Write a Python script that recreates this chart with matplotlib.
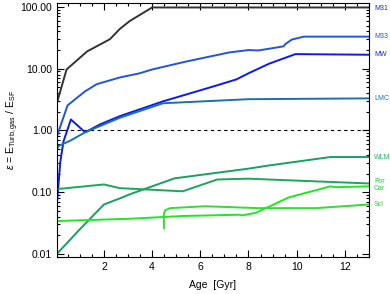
import matplotlib
matplotlib.use('Agg')
import matplotlib.pyplot as plt
from matplotlib.ticker import LogLocator, MultipleLocator, FuncFormatter, NullFormatter

plt.rcParams['font.family'] = ['Liberation Sans', 'DejaVu Sans']
plt.rcParams['mathtext.fontset'] = 'custom'
plt.rcParams['mathtext.rm'] = 'Liberation Sans'
plt.rcParams['mathtext.it'] = 'Liberation Sans:italic'

# Кривые галактик (возраст в Гyr, отношение энергий)
m31_x = [0.05, 0.45, 1.3, 2.25, 2.66, 3.07, 4.0, 13.0]
m31_y = [2.8, 9.7, 19, 30, 44, 59, 98, 98]

m33_x = [0.05, 0.49, 1.22, 1.7, 2.66, 3.48, 4.0, 5.4, 7.2, 8.0, 8.4, 8.85, 9.46, 9.53, 9.8, 10.3, 13.0]
m33_y = [0.8, 2.54, 4.3, 5.6, 7.2, 8.4, 9.7, 13, 18.3, 20, 19.7, 21, 23, 25, 29.6, 33, 33]

mw_x = [0.05, 0.19, 0.32, 0.63, 1.22, 1.84, 2.66, 4.45, 6.65, 7.5, 8.0, 8.85, 9.95, 13.0]
mw_y = [0.066, 0.31, 0.66, 1.5, 0.93, 1.25, 1.7, 2.95, 5.3, 6.7, 8.4, 12.0, 17.2, 16.8]

lmc_x = [0.05, 0.12, 0.6, 1.22, 2.66, 4.45, 8.0, 13.0]
lmc_y = [0.5, 0.56, 0.68, 0.93, 1.6, 2.75, 3.2, 3.3]

wlm_x = [0.05, 1.0, 2.0, 2.66, 3.07, 4.93, 8.0, 8.85, 11.4, 13.0]
wlm_y = [0.01, 0.025, 0.063, 0.079, 0.092, 0.167, 0.24, 0.27, 0.37, 0.37]

for_x = [0.05, 2.0, 2.66, 5.27, 6.7, 8.0, 13.0]
for_y = [0.112, 0.133, 0.116, 0.103, 0.16, 0.165, 0.138]

car_x = [0.05, 3.07, 5.26, 7.6, 7.73, 8.3, 9.67, 11.4, 11.6, 13.0]
car_y = [0.034, 0.037, 0.041, 0.043, 0.042, 0.046, 0.082, 0.124, 0.12, 0.124]

scl_x = [4.49, 4.49, 4.55, 4.75, 6.2, 8.4, 10.8, 13.0]
scl_y = [0.026, 0.045, 0.051, 0.055, 0.059, 0.055, 0.055, 0.063]

names = ['M31', 'M33', 'MW', 'LMC', 'WLM', 'For', 'Car', 'Scl']
label_y = [96, 33, 17, 3.3, 0.37, 0.149, 0.115, 0.063]
line_colors = ['#333333', '#2255d8', '#0a1af0', '#1a72aa', '#18a060', '#18a858', '#22e622', '#33dd33']
label_colors = ['#2222bb', '#2255cc', '#1a2aee', '#1a72b0', '#22bb66', '#22cc44', '#22cc44', '#33cc33']

series = [(m31_x, m31_y), (m33_x, m33_y), (mw_x, mw_y), (lmc_x, lmc_y),
          (wlm_x, wlm_y), (for_x, for_y), (car_x, car_y), (scl_x, scl_y)]

fig = plt.figure(figsize=(3.9, 2.94), dpi=100)
ax = fig.add_axes([0.146, 0.126, 0.8, 0.864])

ax.axhline(1.0, color='black', lw=0.8, ls=(0, (3, 3)))

for (x, y), c in zip(series, line_colors):
    ax.plot(x, y, color=c, lw=1.4)

for name, yy, c in zip(names, label_y, label_colors):
    ax.text(1.016, yy, name, color=c, fontsize=5, va='center', ha='left',
            transform=ax.get_yaxis_transform())

ax.set_yscale('log')
ax.set_xlim(0.05, 13)
ax.set_ylim(0.0089, 116)

ax.xaxis.set_major_locator(MultipleLocator(2))
ax.xaxis.set_minor_locator(MultipleLocator(0.5))
ax.set_xticks([2, 4, 6, 8, 10, 12])
ax.yaxis.set_major_locator(LogLocator(base=10, numticks=10))
ax.yaxis.set_minor_locator(LogLocator(base=10, subs=range(2, 10), numticks=20))
ax.yaxis.set_major_formatter(FuncFormatter(lambda v, p: '%.2f' % v))
ax.yaxis.set_minor_formatter(NullFormatter())

ax.tick_params(which='both', direction='in', top=True, right=True, labelsize=7.5, width=0.8)
ax.tick_params(which='major', length=5)
ax.tick_params(which='minor', length=2.5)
for s in ax.spines.values():
    s.set_linewidth(0.8)

ax.set_xlabel('Age  [Gyr]', fontsize=7.5, labelpad=6)
ax.set_ylabel(r'$\epsilon$ = E$_{\rm Turb,gas}$ / E$_{\rm SF}$', fontsize=7.5)
ax.yaxis.set_label_coords(-0.115, 0.5)

fig.savefig('out.png', dpi=100)
